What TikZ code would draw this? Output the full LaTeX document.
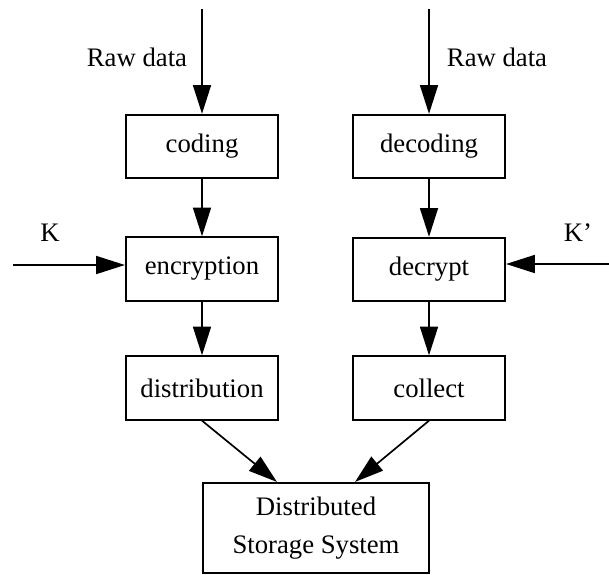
\documentclass[tikz,border=0pt]{standalone}
\usepackage{fontspec}
\setmainfont{Liberation Serif}
\usetikzlibrary{arrows.meta}

\begin{document}
\begin{tikzpicture}[x=0.025cm, y=-0.025cm]
    \tikzstyle{block}=[rectangle, draw, line width=1.5pt, minimum width=3.8cm, minimum height=1.58cm, align=center, font=\fontsize{19}{27}\selectfont]
    \tikzstyle{lbl}=[font=\fontsize{19}{27}\selectfont]
    \tikzstyle{arr}=[->, line width=1.2pt, >={Triangle[length=0.72cm, width=0.45cm]}]

    \useasboundingbox (0,0) rectangle (609,574);

    % left column
    \node[block] (coding) at (202,146.5) {coding};
    \node[block] (enc) at (202,269) {encryption};
    \node[block] (dist) at (202,388) {distribution};

    % right column
    \node[block] (decod) at (429,146.5) {decoding};
    \node[block] (decr) at (429,269.5) {decrypt};
    \node[block] (coll) at (429,388) {collect};

    \node[block, minimum width=5.65cm, minimum height=2.25cm] (dss) at (316,528) {Distributed\\Storage System};

    % inputs
    \node[lbl] (raw1) at (137,57) {Raw data};
    \node[lbl] (raw2) at (497,57) {Raw data};
    \node[lbl] (k1) at (50,233) {K};
    \node[lbl] (k2) at (578,233) {K'};
    \coordinate (in1) at (202,9);
    \coordinate (in2) at (429,9);
    \coordinate (kin1) at (13,265);
    \coordinate (kin2) at (612,264);

    \draw[arr] (in1) -- (coding);
    \draw[arr] (in2) -- (decod);
    \draw[arr] (kin1) -- (kin1 -| enc.west);
    \draw[arr] (kin2) -- (kin2 -| decr.east);

    \foreach \a/\b in {coding/enc, enc/dist, decod/decr, decr/coll} {
        \draw[arr] (\a) -- (\b);
    }

    \draw[arr] (dist.south) -- ([xshift=-0.975cm]dss.north);
    \draw[arr] (coll.south) -- ([xshift=0.975cm]dss.north);
\end{tikzpicture}
\end{document}
